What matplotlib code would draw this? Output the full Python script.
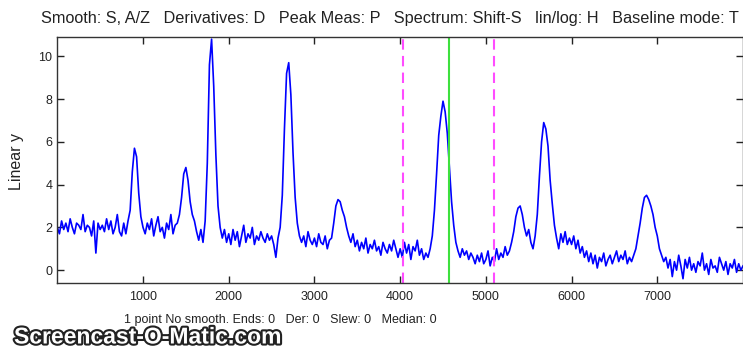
import matplotlib
matplotlib.use("Agg")
import matplotlib.pyplot as plt
import matplotlib.patheffects as pe
import numpy as np

# Signal, one value every 25 x-units (0..8000)
step = 25
y_vals = [
    # 0 - 975
    2.0, 1.7, 2.3, 1.9, 2.2, 1.8, 2.4, 2.0, 1.7, 2.2,
    2.1, 1.9, 2.6, 1.8, 2.1, 2.0, 1.6, 2.3, 0.8, 2.2,
    1.9, 2.1, 1.8, 2.4, 1.9, 2.3, 1.7, 2.0, 2.6, 1.8,
    1.6, 2.2, 1.7, 2.3, 2.8, 4.6, 5.7, 5.3, 3.6, 2.5,
    # 1000 - 1975
    2.0, 1.7, 2.2, 1.9, 2.4, 1.6, 2.1, 2.5, 1.8, 2.0,
    1.5, 2.2, 1.9, 2.6, 1.7, 2.1, 2.2, 2.6, 3.4, 4.5,
    4.8, 4.2, 3.2, 2.6, 2.3, 1.8, 1.4, 1.9, 1.3, 2.3,
    5.0, 9.6, 10.8, 8.6, 5.4, 3.0, 2.0, 1.5, 1.9, 1.3,
    # 2000 - 2975
    1.7, 1.2, 1.9, 1.4, 1.8, 1.1, 1.6, 2.1, 1.3, 1.7,
    1.5, 2.0, 1.2, 1.6, 1.4, 1.8, 1.5, 1.3, 1.7, 1.4,
    1.6, 1.2, 0.6, 1.5, 2.0, 3.5, 6.6, 9.2, 9.7, 8.2,
    5.5, 3.4, 2.2, 1.6, 1.3, 1.6, 1.1, 1.8, 1.4, 1.2,
    # 3000 - 3975
    1.5, 1.1, 1.7, 1.3, 1.2, 1.6, 1.0, 1.4, 1.5, 2.2,
    3.0, 3.3, 3.2, 2.8, 2.5, 2.0, 1.6, 1.3, 1.7, 1.1,
    1.4, 0.9, 1.3, 1.0, 1.5, 0.8, 1.2, 1.0, 1.4, 0.9,
    1.1, 0.7, 1.3, 1.0, 0.8, 1.2, 0.9, 1.4, 1.0, 0.6,
    # 4000 - 4975
    1.0, 0.6, 1.3, 0.8, 1.2, 0.5, 1.1, 0.9, 1.4, 0.7,
    1.0, 0.5, 0.8, 0.6, 1.0, 1.6, 2.8, 4.5, 6.3, 7.2,
    7.9, 7.4, 6.4, 4.8, 3.2, 2.1, 1.3, 0.9, 0.6, 1.0,
    0.7, 0.9, 0.5, 0.8, 0.6, 0.3, 0.7, 0.4, 0.8, 0.3,
    # 5000 - 5975
    0.5, 0.9, 0.2, 0.6, 0.4, 1.0, 0.5, 0.8, 0.6, 1.1,
    0.7, 0.9, 1.3, 1.8, 2.5, 2.9, 3.0, 2.6, 2.0, 1.6,
    1.9, 1.3, 1.0, 1.6, 2.6, 4.4, 6.0, 6.9, 6.6, 5.8,
    4.2, 3.1, 2.1, 1.5, 1.0, 1.7, 1.3, 1.8, 1.2, 1.5,
    # 6000 - 6975
    1.2, 1.6, 1.0, 1.4, 0.8, 1.1, 0.6, 0.9, 0.4, 0.8,
    0.3, 0.7, 0.1, 0.6, 0.4, 0.8, 0.2, 0.5, 0.7, 0.3,
    0.6, 0.9, 0.4, 0.7, 0.5, 0.9, 0.3, 0.6, 0.4, 0.7,
    1.0, 1.6, 2.2, 2.9, 3.4, 3.5, 3.3, 3.0, 2.6, 2.0,
    # 7000 - 8000
    1.6, 1.0, 0.7, 0.4, 0.6, 0.1, 0.5, -0.3, 0.4, 0.0,
    0.7, 0.2, -0.4, 0.5, 0.1, 0.6, 0.0, 0.3, -0.1, 0.4,
    0.2, 0.8, 0.0, 0.3, -0.2, 0.5, 0.1, 0.2, -0.1, 0.6,
    0.3, 0.0, 0.4, -0.2, 0.3, 0.1, 0.5, -0.1, 0.3, 0.0,
    0.2,
]
x_vals = np.arange(len(y_vals)) * step

# Cursor lines
magenta_x = [4030, 5095]
green_x = 4570

x_ticks = [1000, 2000, 3000, 4000, 5000, 6000, 7000]
y_ticks = [0, 2, 4, 6, 8, 10]

title_txt = ("Smooth: S, A/Z   Derivatives: D   Peak Meas: P   "
             "Spectrum: Shift-S   lin/log: H   Baseline mode: T")
xlabel_txt = "1 point No smooth. Ends: 0   Der: 0   Slew: 0   Median: 0"

plt.rcParams['font.family'] = ['Liberation Sans', 'DejaVu Sans']

fig = plt.figure(figsize=(7.43, 3.47), dpi=100)
W, H = 743.0, 347.0
ax = fig.add_axes([57.3 / W, 1 - 283 / H, (743 - 57.3) / W, (283 - 37) / H])

ax.plot(x_vals, y_vals, color='#0000ff', lw=1.2)
for mx in magenta_x:
    ax.axvline(mx, color='#ff4cff', lw=1.5, dashes=(5, 3))
ax.axvline(green_x, color='#3ee03e', lw=1.5)

ax.set_xlim(0, 8000)
ax.set_ylim(-0.6, 10.9)
ax.set_xticks(x_ticks)
ax.set_yticks(y_ticks)
ax.tick_params(direction='in', length=5, width=1, top=True, right=True,
               labelsize=9, colors='#222222')
ax.tick_params(axis='x', pad=6)
for s in ax.spines.values():
    s.set_color('#333333')
    s.set_linewidth(1)

fig.text(17 / W, 1 - 162 / H, "Linear y", rotation=90, ha='center',
         va='center', fontsize=11.5, color='#222222')
fig.text(40.7 / W, 1 - 19 / H, title_txt, ha='left', va='center',
         fontsize=11.7, color='#222222')
fig.text(280 / W, 1 - 320 / H, xlabel_txt, ha='center', va='center',
         fontsize=9, color='#222222')

wm = fig.text(14 / W, 1 - 337 / H, "Screencast-O-Matic.com", ha='left',
              va='center', fontsize=16.5, fontweight='bold', color='white')
wm.set_path_effects([pe.withStroke(linewidth=3, foreground='#222222')])

fig.savefig("out.png", dpi=100)
